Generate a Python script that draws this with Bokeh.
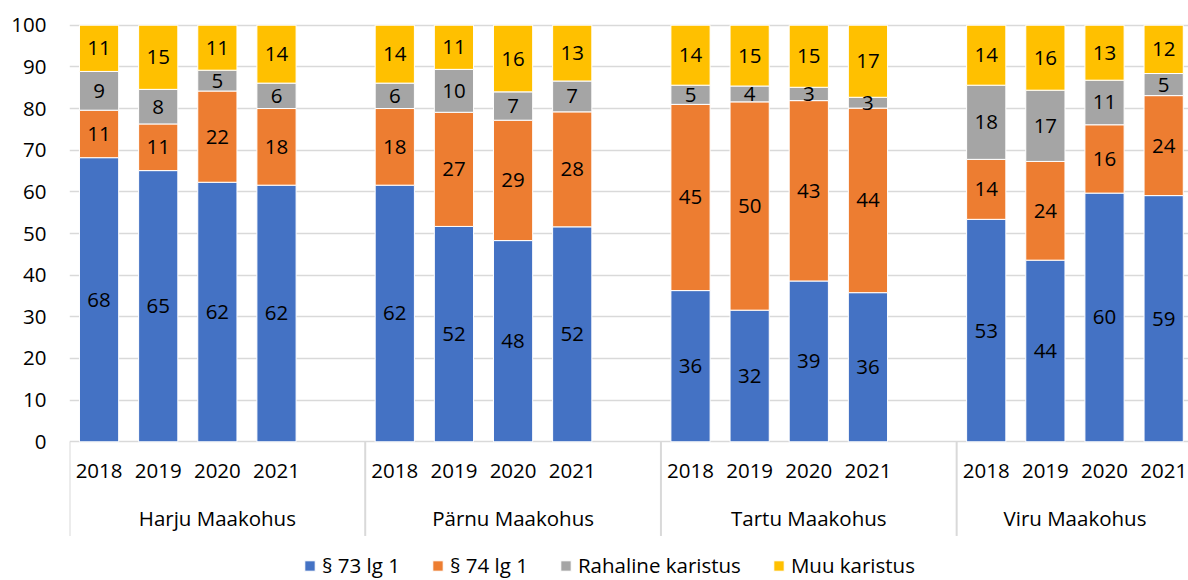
from bokeh.plotting import figure
from bokeh.models import ColumnDataSource, Range1d, FixedTicker, Legend, LegendItem
from bokeh.embed import file_html
from bokeh.resources import INLINE
from bokeh.core.properties import value

# ---- data ----
courts = ["Harju Maakohus", "Pärnu Maakohus", "Tartu Maakohus", "Viru Maakohus"]
years = ["2018", "2019", "2020", "2021"]
series_names = ["§ 73 lg 1", "§ 74 lg 1", "Rahaline karistus", "Muu karistus"]
colors = ["#4472C4", "#ED7D31", "#A5A5A5", "#FFC000"]

s73 = [68.2, 65.1, 62.3, 61.6, 61.6, 51.7, 48.3, 51.6, 36.3, 31.6, 38.6, 35.8, 53.4, 43.6, 59.7, 59.1]
s74 = [11.4, 11.2, 21.9, 18.4, 18.4, 27.4, 28.9, 27.6, 44.7, 50.0, 43.3, 44.3, 14.4, 23.7, 16.4, 24.0]
raha = [9.3, 8.3, 5.0, 6.1, 6.1, 10.3, 6.8, 7.4, 4.6, 3.8, 3.2, 2.6, 17.8, 17.1, 10.7, 5.3]
muu = [11.1, 15.4, 10.8, 13.9, 13.9, 10.6, 16.0, 13.4, 14.4, 14.6, 14.9, 17.3, 14.4, 15.6, 13.2, 11.6]
y_ticks = [0, 10, 20, 30, 40, 50, 60, 70, 80, 90, 100]

FONT = "Open Sans"
FS = "20.5px"
GRID = "#D9D9D9"
slots_per_group = 5
n_slots = slots_per_group * (len(courts) - 1) + len(years)

xs, year_lbl = [], []
for gi in range(len(courts)):
    for yi, yr in enumerate(years):
        xs.append(gi * slots_per_group + yi)
        year_lbl.append(yr)

keys = ["s73", "s74", "raha", "muu"]
src = ColumnDataSource(dict(x=xs, s73=s73, s74=s74, raha=raha, muu=muu))

p = figure(width=1188, height=580, output_backend="svg", toolbar_location=None,
           x_range=Range1d(-0.5, 18.42), y_range=Range1d(-33.29, 105.93),
           x_axis_location=None, min_border_left=69, min_border_right=0,
           min_border_top=0, min_border_bottom=0)
p.outline_line_color = None
p.background_fill_color = "white"
p.border_fill_color = "white"

p.yaxis.ticker = FixedTicker(ticks=y_ticks)
p.yaxis.axis_line_color = None
p.yaxis.major_tick_line_color = None
p.yaxis.minor_tick_line_color = None
p.yaxis.major_tick_out = 0
p.yaxis.major_tick_in = 0
p.yaxis.major_label_standoff = 23
p.yaxis.major_label_text_font = FONT
p.yaxis.major_label_text_font_size = FS
p.yaxis.major_label_text_color = "#000000"
p.xgrid.visible = False
p.ygrid.grid_line_color = GRID
p.ygrid.grid_line_width = 1.5

renderers = p.vbar_stack(keys, x="x", width=0.663, source=src,
                         fill_color=colors, line_color="white", line_width=1)

# data labels
lx, ly, lt = [], [], []
for i in range(len(xs)):
    base = 0.0
    for arr in (s73, s74, raha, muu):
        v = arr[i]
        lx.append(xs[i])
        ly.append(base + v / 2)
        lt.append(str(int(round(v))))
        base += v
p.text(x=lx, y=ly, text=lt, text_align="center", text_baseline="middle",
       text_font=value(FONT), text_font_size=FS, text_color="#000000")

# category axis (years + courts) with separators
p.text(x=xs, y=[-6.9] * len(xs), text=year_lbl, text_align="center", text_baseline="middle",
       text_font=value(FONT), text_font_size=FS, text_color="#000000")
gx, sep = [], []
for gi in range(len(courts)):
    start = gi * slots_per_group - 0.5
    end = min(start + slots_per_group, n_slots - 0.5)
    gx.append((start + end) / 2)
    sep.append(start)
p.text(x=gx, y=[-18.4] * len(gx), text=courts, text_align="center", text_baseline="middle",
       text_font=value(FONT), text_font_size=FS, text_color="#000000")
p.segment(x0=sep, y0=[0] * len(sep), x1=sep, y1=[-22.6] * len(sep),
          line_color=GRID, line_width=2)

legend = Legend(items=[LegendItem(label=n, renderers=[r]) for n, r in zip(series_names, renderers)],
                orientation="horizontal", location=(234, 1),
                glyph_width=13, glyph_height=13, label_standoff=6, spacing=31,
                padding=0, margin=0, border_line_color=None, background_fill_alpha=0,
                label_text_font=FONT, label_text_font_size=FS, label_text_color="#000000")
p.add_layout(legend)

open("out.html", "w").write(file_html(p, INLINE))
